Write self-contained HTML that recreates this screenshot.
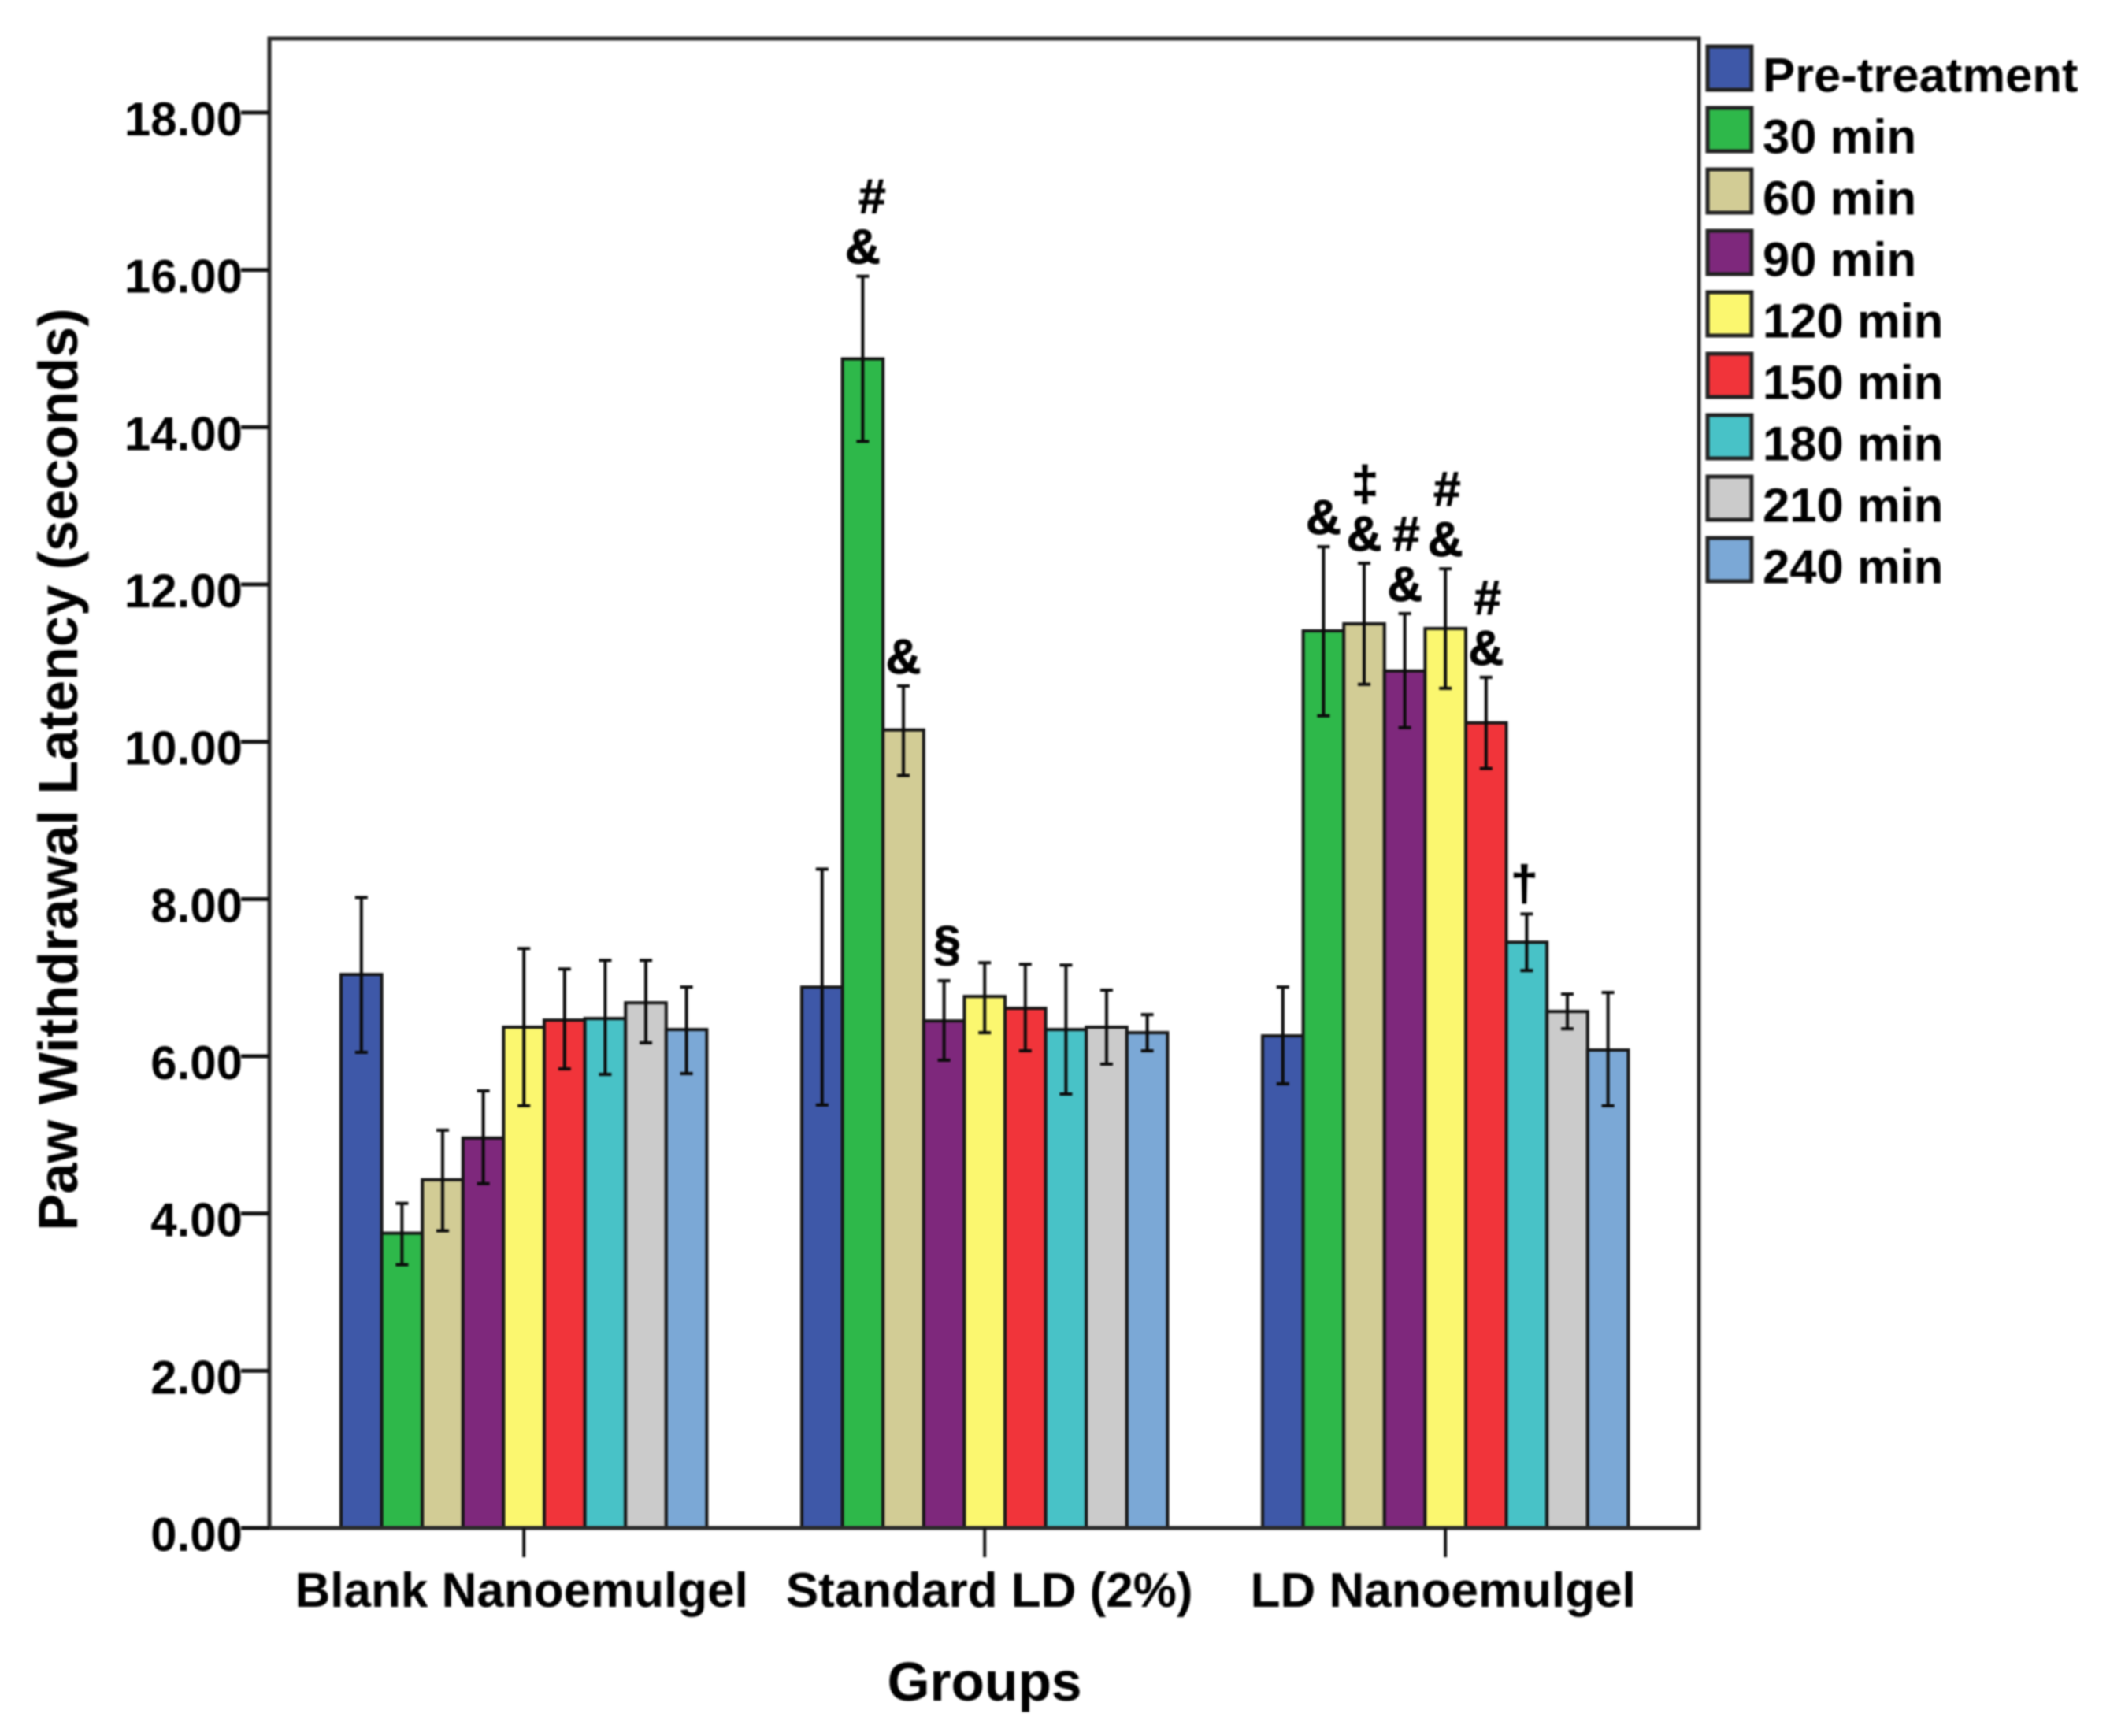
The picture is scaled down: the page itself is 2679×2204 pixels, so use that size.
<!DOCTYPE html>
<html lang="en">
<head>
<meta charset="utf-8">
<title>Paw Withdrawal Latency by Group</title>
<style>
html,body{margin:0;padding:0;background:#fff;}
svg{display:block;filter:blur(1.1px);}
text{font-family:"Liberation Sans",Arial,sans-serif;font-weight:bold;fill:#000;}
</style>
</head>
<body>
<svg id="chart" xmlns="http://www.w3.org/2000/svg" width="2679" height="2204" viewBox="0 0 2679 2204">
  <rect x="0" y="0" width="2679" height="2204" fill="#ffffff"/>
  <g id="bars"></g>
  <g id="errors"></g>
  <rect x="342" y="49" width="1815" height="1891" fill="none" stroke="#2a2a2a" stroke-width="5"/>
  <g id="yaxis"></g>
  <g id="xaxis"></g>
  <g id="annotations"></g>
  <g id="legend"></g>
  <text transform="translate(98,977) rotate(-90)" text-anchor="middle" font-size="70.3">Paw Withdrawal Latency (seconds)</text>
  <text x="1250" y="2159" text-anchor="middle" font-size="69.5">Groups</text>
</svg>
<script>
const groups = ['Blank Nanoemulgel', 'Standard LD (2%)', 'LD Nanoemulgel'];
const seriesNames = ['Pre-treatment', '30 min', '60 min', '90 min', '120 min', '150 min', '180 min', '210 min', '240 min'];
const seriesColors = ['#3e58a8', '#2eb84a', '#d2cc95', '#7e287c', '#fbf76f', '#f1343a', '#48c2c7', '#cbcbcb', '#7ba8d6'];
const yTicks = [0, 2, 4, 6, 8, 10, 12, 14, 16, 18];

const means = [
  [7.04, 3.75, 4.43, 4.96, 6.37, 6.46, 6.48, 6.68, 6.34],
  [6.88, 14.87, 10.15, 6.45, 6.76, 6.61, 6.34, 6.37, 6.30],
  [6.26, 11.41, 11.50, 10.90, 11.44, 10.24, 7.45, 6.57, 6.08]
];
const upperErr = [
  [8.02, 4.13, 5.06, 5.56, 7.37, 7.11, 7.22, 7.22, 6.88],
  [8.38, 15.92, 10.71, 6.96, 7.19, 7.17, 7.16, 6.84, 6.53],
  [6.88, 12.48, 12.27, 11.63, 12.20, 10.82, 7.81, 6.79, 6.81]
];
const lowerErr = [
  [6.05, 3.35, 3.78, 4.38, 5.37, 5.84, 5.77, 6.17, 5.78],
  [5.38, 13.82, 9.57, 5.95, 6.30, 6.07, 5.52, 5.90, 6.07],
  [5.65, 10.33, 10.73, 10.18, 10.68, 9.66, 7.09, 6.35, 5.37]
];
const annotationGroups = [1, 1, 1, 2, 2, 2, 2, 2, 2];
const annotationSeries = [1, 2, 3, 1, 2, 3, 4, 5, 6];
const annotationSymbols = ['&#', '&', '§', '&', '&‡', '&#', '&#', '&#', '†'];

const NS = 'http://www.w3.org/2000/svg';
const Y0 = 1940, UNIT = 99.83;
const GROUP_START = 433, GROUP_STEP = 585, BAR_W = 51.6;
function yScale(v) { return Y0 - v * UNIT; }
function barLeft(g, s) { return GROUP_START + g * GROUP_STEP + s * BAR_W; }
function groupCenter(g) { return barLeft(g, 0) + BAR_W * seriesNames.length / 2; }
function make(tag, attrs, parent, content) {
  const el = document.createElementNS(NS, tag);
  for (const k in attrs) el.setAttribute(k, attrs[k]);
  if (content !== undefined) el.textContent = content;
  parent.appendChild(el);
  return el;
}
const barsLayer = document.getElementById('bars');
const errLayer = document.getElementById('errors');
const yLayer = document.getElementById('yaxis');
const xLayer = document.getElementById('xaxis');
const annLayer = document.getElementById('annotations');
const legendLayer = document.getElementById('legend');

groups.forEach(function (gName, g) {
  seriesNames.forEach(function (sName, s) {
    const top = yScale(means[g][s]);
    const bar = make('rect', {x: barLeft(g, s), y: top, width: BAR_W, height: Y0 - top, fill: seriesColors[s], stroke: '#151515', 'stroke-width': 4}, barsLayer);
    
    

    const cx = barLeft(g, s) + BAR_W / 2;
    const yU = yScale(upperErr[g][s]);
    const yL = yScale(lowerErr[g][s]);
    const err = make('path', {d: 'M' + (cx - 8) + ' ' + yU + 'H' + (cx + 8) + 'M' + cx + ' ' + yU + 'V' + yL + 'M' + (cx - 8) + ' ' + yL + 'H' + (cx + 8), fill: 'none', stroke: '#0a0a0a', 'stroke-width': 4}, errLayer);
    
    
  });

  const c = groupCenter(g);
  const tick = make('line', {x1: c, x2: c, y1: Y0, y2: 1977, stroke: '#111', 'stroke-width': 4}, xLayer);
  
  
  const label = make('text', {x: c + (g === 2 ? -3 : g === 1 ? 6 : -3), y: 2040, 'text-anchor': 'middle', 'font-size': 62}, xLayer, gName);
  
  
});

yTicks.forEach(function (v) {
  const y = yScale(v);
  const tick = make('line', {x1: 306, x2: 342, y1: y, y2: y, stroke: '#111', 'stroke-width': 5}, yLayer);
  
  
  const label = make('text', {x: 308, y: y + 29, 'text-anchor': 'end', 'font-size': 60}, yLayer, v.toFixed(2));
  
  
});

annotationSymbols.forEach(function (syms, i) {
  const g = annotationGroups[i], s = annotationSeries[i];
  const cx = barLeft(g, s) + BAR_W / 2;
  const base = yScale(upperErr[g][s]) - 16;
  Array.from(syms).forEach(function (ch, k) {
    let dx = ch === '&' ? 0 : ch === '#' ? 2 : 1;
    let dy = 0;
    if (g === 1 && s === 1 && ch === '#') dx = 12;
    if (ch === '†') { dx = -3; dy = -2; }
    if (ch === '§') { dx = 4; dy = -10; }
    const t = make('text', {x: cx + dx, y: base + dy - k * 64, 'text-anchor': 'middle', 'font-size': 62, stroke: '#000', 'stroke-width': 1}, annLayer, ch);
    
    
  });
});

seriesNames.forEach(function (name, i) {
  const top = 59 + i * 78;
  const sw = make('rect', {x: 2168, y: top, width: 56, height: 55, fill: seriesColors[i], stroke: '#222', 'stroke-width': 5}, legendLayer);
  
  
  const t = make('text', {x: 2238, y: 116.5 + i * 78, 'font-size': 61.6}, legendLayer, name);
  
  
});
</script>
</body>
</html>
